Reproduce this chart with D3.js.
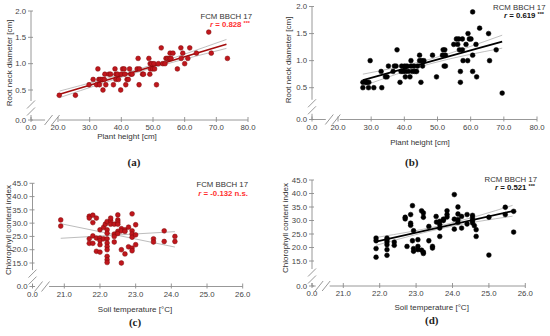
<!DOCTYPE html>
<html>
<head>
<meta charset="utf-8">
<script src="https://cdn.jsdelivr.net/npm/d3@7"></script>
<style>
  body { margin: 0; background: #fff; }
  svg { display: block; font-family: "Liberation Sans", Arial, sans-serif; }
</style>
</head>
<body>
<script>
// ---- data ----
const heightTicks = [20, 30, 40, 50, 60, 70, 80];
const neckTicks = [0.5, 1.0, 1.5, 2.0];
const tempTicks = [21, 22, 23, 24, 25, 26];
const chlTicks = [15, 20, 25, 30, 35, 40, 45];

// (a) FCM: plant height [cm] vs root neck diameter [cm]
const fcmHeightNeck = [
  [20.4,0.4],[25.5,0.4],[29.8,0.6],[31.1,0.7],[32.6,0.9],[32.2,0.6],[32.9,0.7],[33.1,0.6],[33.4,0.7],
  [34.0,0.7],[34.2,0.5],[34.6,0.7],[34.8,0.8],[35.1,0.6],[36.1,0.8],[36.6,0.8],[37.5,0.6],[38.0,0.9],
  [38.3,0.7],[38.3,0.8],[38.8,0.8],[39.1,0.7],[39.8,0.5],[40.0,0.8],[40.4,0.9],[40.9,0.9],[41.1,0.8],
  [41.4,0.6],[41.8,0.7],[42.2,0.7],[42.6,0.9],[43.0,0.8],[43.4,0.8],[45.0,0.9],[45.3,1.1],[45.6,0.6],
  [45.7,0.9],[46.7,0.8],[47.0,0.8],[48.7,1.1],[49.0,0.8],[49.1,1.0],[49.2,0.9],[49.6,1.0],[49.9,0.9],
  [50.3,1.0],[50.5,0.9],[51.1,0.6],[51.7,1.0],[52.6,1.3],[53.1,1.0],[53.8,1.0],[54.1,1.1],[54.6,1.1],
  [55.2,1.1],[55.4,1.2],[55.7,1.1],[56.3,1.2],[57.7,0.9],[58.8,1.3],[58.9,1.1],[59.4,1.2],[60.0,1.0],
  [61.0,1.1],[61.6,1.3],[63.7,1.2],[67.6,1.6],[68.4,1.2],[73.5,1.1]
];
const fcmNeckFit = [[20.5,0.42],[73.2,1.37]];
const fcmNeckUpper = [[20.5,0.48],[47,0.925],[73.2,1.46]];
const fcmNeckLower = [[20.5,0.355],[47,0.87],[73.2,1.29]];

// (b) RCM: plant height [cm] vs root neck diameter [cm]
const rcmHeightNeck = [
  [27.5,0.6],[27.5,0.5],[28.3,0.6],[28.7,0.6],[29.2,0.5],[29.7,1.0],[29.3,0.6],[30.8,0.5],[33.0,0.8],
  [33.2,0.5],[34.3,0.7],[34.8,0.7],[35.2,0.9],[36.6,0.8],[37.0,0.9],[37.5,0.9],[37.8,1.2],[38.7,0.6],
  [39.0,0.8],[39.2,0.9],[39.6,0.8],[40.1,0.9],[40.3,0.8],[40.3,0.7],[40.8,0.9],[41.2,0.8],[41.7,0.7],
  [42.0,1.0],[42.0,0.9],[42.4,0.8],[42.9,0.9],[43.2,0.8],[43.7,0.8],[44.0,0.9],[44.6,1.1],[44.6,1.0],
  [45.0,0.6],[45.2,1.0],[45.5,0.9],[45.9,1.0],[48.5,1.1],[49.7,0.7],[51.5,1.1],[51.7,1.2],[52.0,0.9],
  [52.2,1.2],[52.4,1.1],[52.4,0.9],[54.9,1.3],[55.7,1.4],[56.1,1.3],[56.4,1.4],[56.6,1.2],[56.9,0.8],
  [56.9,0.6],[57.5,1.4],[57.5,1.2],[57.7,1.0],[58.6,1.3],[59.1,1.0],[59.2,1.5],[59.6,1.4],[60.1,1.4],
  [60.6,1.9],[60.6,1.1],[60.6,0.8],[61.6,1.3],[61.8,0.7],[62.7,1.6],[65.4,1.5],[65.7,1.0],[67.7,1.2],
  [69.5,0.4]
];
const rcmNeckFit = [[27.5,0.64],[69.5,1.35]];
const rcmNeckUpper = [[27.5,0.75],[48,1.03],[69.5,1.47]];
const rcmNeckLower = [[27.5,0.53],[48,0.945],[69.5,1.23]];

// (c) FCM: soil temperature [°C] vs chlorophyll content index
const fcmSoilChl = [
  [20.9,31.2],[20.9,28.9],[21.7,32.6],[21.7,31.9],[21.7,24.1],[21.7,22.4],[21.8,33.0],[21.8,30.2],
  [21.8,25.2],[21.8,22.4],[21.9,31.9],[21.9,24.4],[21.9,19.4],[22.0,27.5],[22.0,24.4],[22.0,23.4],
  [22.0,21.9],[22.0,19.1],[22.1,28.4],[22.1,24.1],[22.15,29.6],[22.2,30.6],[22.2,27.5],[22.2,26.2],
  [22.2,24.1],[22.2,22.5],[22.2,21.2],[22.2,20.0],[22.2,17.5],[22.2,16.2],[22.2,15.2],[22.3,30.9],
  [22.3,31.9],[22.3,29.6],[22.4,29.6],[22.4,25.9],[22.4,25.0],[22.4,22.9],[22.5,33.1],[22.5,31.2],
  [22.5,30.4],[22.5,29.6],[22.5,26.9],[22.5,26.1],[22.6,27.9],[22.6,27.1],[22.6,20.0],[22.6,15.0],
  [22.7,27.5],[22.7,26.9],[22.7,18.4],[22.8,28.5],[22.8,21.1],[22.9,33.5],[22.9,27.1],[22.9,25.9],
  [22.9,24.7],[22.9,20.6],[22.9,19.6],[23.0,29.4],[23.0,25.6],[23.0,21.9],[23.5,24.1],[23.5,22.9],
  [23.8,27.1],[23.8,23.1],[24.1,25.0],[24.1,23.1]
];
const fcmChlLine1 = [[20.9,29.8],[24.1,21.0]];
const fcmChlLine2 = [[20.9,24.3],[24.1,26.8]];

// (d) RCM: soil temperature [°C] vs chlorophyll content index
const rcmSoilChl = [
  [21.9,23.5],[21.9,22.5],[21.9,19.6],[21.9,16.4],[22.2,23.5],[22.2,22.8],[22.2,22.0],[22.2,21.0],
  [22.2,19.2],[22.2,17.1],[22.4,22.0],[22.4,20.8],[22.7,31.2],[22.7,30.6],[22.75,20.4],[22.85,32.2],
  [22.85,29.0],[22.85,28.2],[22.9,22.5],[22.9,35.5],[22.93,26.2],[22.93,19.6],[22.93,18.6],[23.05,22.9],
  [23.05,20.4],[23.05,19.2],[23.15,33.6],[23.15,19.0],[23.2,32.8],[23.2,31.2],[23.2,18.3],[23.2,17.8],
  [23.35,27.8],[23.35,22.5],[23.45,20.4],[23.45,19.8],[23.55,31.5],[23.56,29.4],[23.65,29.7],[23.65,28.5],
  [23.65,27.2],[23.65,24.1],[23.75,30.0],[23.75,30.5],[23.85,33.6],[23.85,32.2],[23.85,31.3],[24.05,39.6],
  [24.05,30.5],[24.05,26.8],[24.15,35.0],[24.15,32.4],[24.15,30.3],[24.15,29.3],[24.25,31.5],[24.25,27.2],
  [24.4,32.2],[24.4,28.7],[24.55,31.9],[24.55,30.9],[24.55,29.9],[24.55,29.1],[24.6,28.1],[24.65,26.6],
  [24.65,24.1],[25.0,31.2],[25.0,17.2],[25.45,34.9],[25.45,32.2],[25.68,33.4],[25.68,25.7]
];
const rcmChlFit = [[21.9,22.2],[25.65,33.5]];
const rcmChlUpper = [[21.9,23.7],[23.8,28.5],[25.65,35.6]];
const rcmChlLower = [[21.9,20.8],[23.8,27.35],[25.65,31.6]];

const red = "#c0161c", redDark = "#7d0a0a", redText = "#ff3030";

// ---- panel layout ----
const panels = [
  { x0: 31, y0: 120, xDom: [20, 80], xRng: [58, 248], yDom: [0.5, 2.0], yRng: [90, 11],
    xTicks: heightTicks, yTicks: neckTicks, breakX: 0.78,
    pts: fcmHeightNeck, fill: red, stroke: redDark,
    lines: [{ d: fcmNeckUpper, c: "#b0b0b0", w: 0.8 }, { d: fcmNeckLower, c: "#b0b0b0", w: 0.8 },
            { d: fcmNeckFit, c: "#a30d0d", w: 1.6 }],
    xLab: "Plant height [cm]", xLabPos: [127, 139], yLab: "Root neck diameter [cm]", yLabPos: [11.5, 63],
    tag: "FCM BBCH 17", r: "0.828", sig: "***", rColor: redText, annRight: [252, 250], annBase: [19, 26.5],
    letter: "(a)", letterPos: [134, 166] },
  { x0: 312, y0: 119.5, xDom: [20, 80], xRng: [338, 537], yDom: [0.5, 2.0], yRng: [87.7, 6.5],
    xTicks: heightTicks, yTicks: neckTicks, breakX: 0.8,
    pts: rcmHeightNeck, fill: "#000", stroke: "#000",
    lines: [{ d: rcmNeckUpper, c: "#b0b0b0", w: 0.8 }, { d: rcmNeckLower, c: "#b0b0b0", w: 0.8 },
            { d: rcmNeckFit, c: "#000", w: 1.7 }],
    xLab: "Plant height [cm]", xLabPos: [420, 145], yLab: "Root neck diameter [cm]", yLabPos: [291, 60],
    tag: "RCM BBCH 17", r: "0.619", sig: "***", rColor: "#111", annRight: [545.5, 544], annBase: [9.5, 18],
    letter: "(b)", letterPos: [411.7, 166] },
  { x0: 32.5, y0: 286.5, xDom: [21, 26], xRng: [64.3, 242.7], yDom: [15, 45], yRng: [263, 183.3],
    xTicks: tempTicks, yTicks: chlTicks, breakX: 0.3,
    pts: fcmSoilChl, fill: red, stroke: redDark,
    lines: [{ d: fcmChlLine1, c: "#bdbdbd", w: 1 }, { d: fcmChlLine2, c: "#bdbdbd", w: 1 }],
    xLab: "Soil temperature [°C]", xLabPos: [135, 312], yLab: "Chlorophyll content index", yLabPos: [10.5, 230],
    tag: "FCM BBCH 17", r: "-0.132", sig: "n.s.", rColor: redText, annRight: [248, 248], annBase: [187, 196],
    letter: "(c)", letterPos: [135, 326] },
  { x0: 312, y0: 286, xDom: [21, 26], xRng: [343.3, 525.3], yDom: [15, 45], yRng: [261, 180],
    xTicks: tempTicks, yTicks: chlTicks, breakX: 0.34,
    pts: rcmSoilChl, fill: "#000", stroke: "#000",
    lines: [{ d: rcmChlUpper, c: "#b0b0b0", w: 0.8 }, { d: rcmChlLower, c: "#b0b0b0", w: 0.8 },
            { d: rcmChlFit, c: "#000", w: 1.7 }],
    xLab: "Soil temperature [°C]", xLabPos: [431.7, 310], yLab: "Chlorophyll content index", yLabPos: [288, 228],
    tag: "RCM BBCH 17", r: "0.521", sig: "***", rColor: "#111", annRight: [537, 535], annBase: [182, 189.5],
    letter: "(d)", letterPos: [431.7, 324] }
];

const svg = d3.select("body").append("svg").attr("width", 550).attr("height", 336);
const axisColor = "#8c8c8c";
const fmt = d3.format(".1f");

panels.forEach(p => {
  const x = d3.scaleLinear().domain(p.xDom).range(p.xRng);
  const y = d3.scaleLinear().domain(p.yDom).range(p.yRng);
  const g = svg.append("g");
  const ax = g.append("g").attr("stroke", axisColor).attr("stroke-width", 0.9).attr("fill", "none");

  // x axis with break
  const xEnd = x(p.xDom[1]);
  const cx = p.x0 + p.breakX * (x(p.xDom[0]) - p.x0);
  ax.append("line").attr("x1", p.x0).attr("x2", Math.max(p.x0, cx - 7)).attr("y1", p.y0).attr("y2", p.y0);
  ax.append("line").attr("x1", cx + 7).attr("x2", xEnd).attr("y1", p.y0).attr("y2", p.y0);
  [-3.5, 3.5].forEach(o => ax.append("line")
    .attr("x1", cx + o - 4).attr("y1", p.y0 + 5).attr("x2", cx + o + 4).attr("y2", p.y0 - 5));

  // y axis with break
  const yTop = y(p.yDom[1]);
  const cy = p.y0 - 0.4 * (p.y0 - y(p.yDom[0]));
  ax.append("line").attr("x1", p.x0).attr("x2", p.x0).attr("y1", yTop).attr("y2", cy - 7);
  ax.append("line").attr("x1", p.x0).attr("x2", p.x0).attr("y1", cy + 7).attr("y2", p.y0);
  [-3.5, 3.5].forEach(o => ax.append("line")
    .attr("x1", p.x0 - 4).attr("y1", cy + o + 4).attr("x2", p.x0 + 4).attr("y2", cy + o - 4));

  // ticks
  const xt = [{ v: 0, px: p.x0 }].concat(p.xTicks.map(v => ({ v, px: x(v) })));
  const yt = [{ v: 0, px: p.y0 }].concat(p.yTicks.map(v => ({ v, px: y(v) })));
  ax.selectAll(".xt").data(xt).join("line")
    .attr("x1", d => d.px).attr("x2", d => d.px).attr("y1", p.y0 - 3).attr("y2", p.y0 + 2);
  ax.selectAll(".yt").data(yt).join("line")
    .attr("y1", d => d.px).attr("y2", d => d.px).attr("x1", p.x0 - 3).attr("x2", p.x0 + 2);

  g.append("g").attr("font-size", 7.8).attr("fill", "#444").attr("text-anchor", "middle")
    .selectAll("text").data(xt).join("text")
    .attr("x", d => d.px).attr("y", p.y0 + 10).text(d => fmt(d.v));
  g.append("g").attr("font-size", 7.8).attr("fill", "#444").attr("text-anchor", "end")
    .selectAll("text").data(yt).join("text")
    .attr("x", p.x0 - 5).attr("y", d => d.px).attr("dy", "0.35em").text(d => fmt(d.v));

  // axis titles
  g.append("text").attr("font-size", 8).attr("fill", "#333").attr("text-anchor", "middle")
    .attr("x", p.xLabPos[0]).attr("y", p.xLabPos[1]).text(p.xLab);
  g.append("text").attr("font-size", 8).attr("fill", "#333").attr("text-anchor", "middle")
    .attr("transform", `translate(${p.yLabPos[0]},${p.yLabPos[1]}) rotate(-90)`).text(p.yLab);

  // fit + confidence lines
  const line = d3.line().x(d => x(d[0])).y(d => y(d[1])).curve(d3.curveNatural);
  g.append("g").attr("fill", "none").selectAll("path").data(p.lines).join("path")
    .attr("d", d => line(d.d)).attr("stroke", d => d.c).attr("stroke-width", d => d.w);

  // points
  g.append("g").selectAll("circle").data(p.pts).join("circle")
    .attr("cx", d => x(d[0])).attr("cy", d => y(d[1])).attr("r", 2.4)
    .attr("fill", p.fill).attr("stroke", p.stroke).attr("stroke-width", 0.5);

  // annotation
  g.append("text").attr("font-size", 7.8).attr("fill", "#333").attr("text-anchor", "end")
    .attr("x", p.annRight[0]).attr("y", p.annBase[0]).text(p.tag);
  const rt = g.append("text").attr("font-size", 7.8).attr("font-weight", "bold").attr("fill", p.rColor)
    .attr("text-anchor", "end").attr("x", p.annRight[1]).attr("y", p.annBase[1]);
  rt.append("tspan").attr("font-style", "italic").text("r");
  rt.append("tspan").text(" = " + p.r + " ");
  if (p.sig === "***") {
    rt.append("tspan").attr("font-size", 5.5).attr("dy", -2).text(p.sig);
  } else {
    rt.append("tspan").text(p.sig);
  }

  // panel letter
  g.append("text").attr("font-family", "'Liberation Serif', 'Times New Roman', serif")
    .attr("font-size", 11).attr("font-weight", "bold").attr("fill", "#222").attr("text-anchor", "middle")
    .attr("x", p.letterPos[0]).attr("y", p.letterPos[1]).text(p.letter);
});
</script>
</body>
</html>
